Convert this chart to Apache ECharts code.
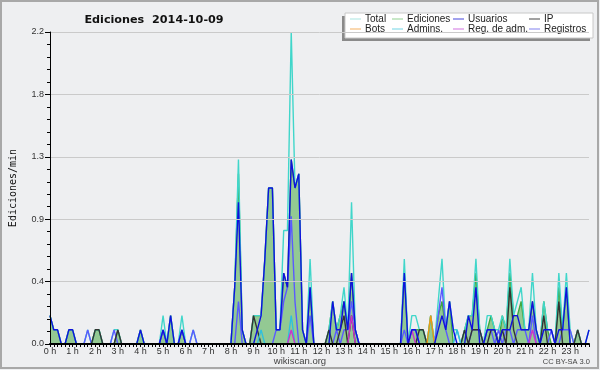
<!DOCTYPE html>
<html><head><meta charset="utf-8">
<script src="https://cdn.jsdelivr.net/npm/echarts@6/dist/echarts.min.js"></script>
<style>html,body{margin:0;padding:0;background:#eeeff1}#c{width:600px;height:370px}</style>
</head><body><div id="c"></div>
<script>
// tick labels (one per hour, data every 10 minutes)
const hourLabels = ['0 h','1 h','2 h','3 h','4 h','5 h','6 h','7 h','8 h','9 h','10 h','11 h',
  '12 h','13 h','14 h','15 h','16 h','17 h','18 h','19 h','20 h','21 h','22 h','23 h'];
const yTickLabels = ['0.0','0.4','0.9','1.3','1.8','2.2'];
const seriesNames = ['Total','Ediciones','Usuarios','IP','Bots','Admins.','Reg. de adm.','Registros'];

// edits per minute, 10-minute buckets (6 per hour row)
const total = [
 .2,.1,.1,0,0,.1,   .1,0,0,0,.1,0,   .1,.1,0,0,0,.1,   .1,0,0,0,0,0,
 .1,0,0,0,0,0,      .2,0,.2,0,0,.2,  0,0,.1,0,0,0,     0,0,0,0,0,0,
 0,.4,1.3,.1,0,0,   .2,.2,.2,.6,1.1,1.1, .1,.1,.8,.8,2.2,1.1, 1.2,.1,0,.6,0,0,
 0,0,.1,.3,.1,.2,   .4,.1,1.0,.1,0,0, 0,0,0,0,0,0,     0,0,0,0,.6,0,
 .2,.2,.1,.1,0,.2,  0,.3,.6,.1,.3,.1, .1,0,.1,.2,.2,.6, .1,0,.2,.2,.1,.1,
 .2,.1,.6,.2,.3,.4, .1,.1,.5,.1,0,.3, .1,.1,0,.5,.1,.5, .1,0,.1,0,0,.1];
const edits = [
 .2,.1,.1,0,0,.1,   .1,0,0,0,0,0,    .1,.1,0,0,0,0,    .1,0,0,0,0,0,
 .1,0,0,0,0,0,      .1,0,.2,0,0,.1,  0,0,0,0,0,0,      0,0,0,0,0,0,
 0,.4,1.2,.1,0,0,   .2,.2,.2,.6,1.1,1.1, .1,.1,.5,.4,1.3,1.1, 1.2,.1,0,.4,0,0,
 0,0,.1,.3,.1,.2,   .3,.1,.5,.1,0,0, 0,0,0,0,0,0,      0,0,0,0,.5,0,
 .1,.1,.1,.1,0,.2,  0,.2,.3,.1,.3,0, 0,0,.1,.2,.2,.5,  .1,0,.1,.2,.1,0,
 .2,.1,.5,.2,.2,.3, .1,.1,.3,.1,0,.3, .1,0,0,.4,.1,.4, 0,0,.1,0,0,0];
const users = [
 .2,.1,.1,0,0,.1,   .1,0,0,0,0,0,    0,0,0,0,0,0,      0,0,0,0,0,0,
 .1,0,0,0,0,0,      .1,0,.2,0,0,.1,  0,0,0,0,0,0,      0,0,0,0,0,0,
 0,.4,1.0,.1,0,0,   0,.1,.2,.6,1.1,1.1, .1,.1,.5,.4,1.3,1.1, 1.2,.1,0,.4,0,0,
 0,0,0,.3,.1,.1,    .3,.1,.5,.1,0,0, 0,0,0,0,0,0,      0,0,0,0,.5,0,
 .1,.1,0,0,0,0,     0,.1,.2,.1,.3,.1, 0,0,0,.2,.1,.4,  0,0,.1,.1,.1,0,
 .1,.1,.1,.2,.2,.1, .1,.1,.3,.1,0,.1, .1,.1,0,.1,.1,.4, 0,0,0,0,0,.1];
const ip = [
 0,0,0,0,0,0,       0,0,0,0,0,0,     .1,.1,0,0,0,0,    .1,0,0,0,0,0,
 0,0,0,0,0,0,       0,0,0,0,0,0,     0,0,0,0,0,0,      0,0,0,0,0,0,
 0,0,0,0,0,0,       .2,.1,0,0,0,0,   0,0,0,0,0,0,      0,0,0,0,0,0,
 0,0,.1,0,0,.1,     .2,0,.2,0,0,0,   0,0,0,0,0,0,      0,0,0,0,0,0,
 0,0,.1,.1,0,0,     0,0,0,0,0,0,     0,0,.1,0,.1,.1,   .1,0,0,.1,.1,0,
 .1,0,.4,.1,0,0,    0,0,0,0,0,.2,    0,0,0,.3,0,0,     0,0,.1,0,0,0];
const bots = [
 0,0,0,0,0,0, 0,0,0,0,0,0, 0,0,0,0,0,0, 0,0,0,0,0,0,
 0,0,0,0,0,0, 0,0,0,0,0,0, 0,0,0,0,0,0, 0,0,0,0,0,0,
 0,0,0,0,0,0, 0,0,0,0,0,0, 0,0,0,0,0,0, 0,0,0,0,0,0,
 0,0,0,0,0,0, 0,0,0,0,0,0, 0,0,0,0,0,0, 0,0,0,0,0,0,
 0,0,0,0,0,.2, 0,0,0,0,0,0, 0,0,0,0,0,0, 0,0,0,0,0,0,
 0,0,0,0,0,0, 0,0,0,0,0,0, 0,0,0,0,0,0, 0,0,0,0,0,0];
const admins = [
 0,0,0,0,0,0, 0,0,0,0,0,0, 0,0,0,0,0,0, 0,0,0,0,0,0,
 0,0,0,0,0,0, 0,0,0,0,0,0, 0,0,0,0,0,0, 0,0,0,0,0,0,
 0,0,0,0,0,0, 0,0,.1,0,0,0, 0,0,0,0,.2,0, 0,0,0,0,0,0,
 0,0,0,0,0,0, 0,0,0,0,0,0, 0,0,0,0,0,0, 0,0,0,0,0,0,
 0,0,0,0,0,0, 0,0,0,0,0,0, .1,0,0,0,0,0, 0,0,0,0,0,0,
 0,0,0,0,0,0, 0,0,0,0,0,0, 0,0,0,0,0,0, 0,0,0,0,0,0];
const adminLogs = [
 0,0,0,0,0,0, 0,0,0,0,0,0, 0,0,0,0,0,0, 0,0,0,0,0,0,
 0,0,0,0,0,0, 0,0,0,0,0,0, 0,0,0,0,0,0, 0,0,0,0,0,0,
 0,0,0,0,0,0, 0,0,0,0,0,0, 0,0,0,0,.1,0, 0,0,0,0,0,0,
 0,0,0,0,0,0, 0,0,.2,0,0,0, 0,0,0,0,0,0, 0,0,0,0,0,0,
 .1,0,0,0,0,0, 0,0,0,0,0,0, 0,0,0,0,0,0, 0,0,0,0,0,0,
 0,0,0,0,0,0, 0,0,.1,0,0,0, 0,0,0,0,0,0, 0,0,0,0,0,0];
const logs = [
 0,0,0,0,0,0,       0,0,0,0,.1,0,    0,0,0,0,0,.1,     0,0,0,0,0,0,
 0,0,0,0,0,0,       .1,0,0,0,0,.1,   0,0,.1,0,0,0,     0,0,0,0,0,0,
 0,0,.3,0,0,0,      0,0,0,0,0,0,     .1,.1,.3,.4,.9,.3, 0,0,0,.2,0,0,
 0,0,0,0,.1,0,      .1,.1,.3,.1,0,0, 0,0,0,0,0,0,      0,0,0,0,.1,0,
 .1,.1,0,0,0,0,     0,.2,.4,.1,0,0,  0,0,0,0,.1,.1,    .1,0,.1,.1,0,.1,
 0,.1,.1,0,.1,.1,   .1,0,.2,0,0,0,   0,.1,0,0,.1,.1,   .1,0,0,0,0,0];

const cats = [];
hourLabels.forEach(h => { for (let m = 0; m < 6; m++) cats.push(m === 0 ? h : h + ':' + m + '0'); });

const colors = {
  'Total': '#40d6ca', 'Ediciones': '#3fa83f', 'Usuarios': '#1010dd', 'IP': '#333333',
  'Bots': '#ee9a10', 'Admins.': '#30c0dc', 'Reg. de adm.': '#cc33cc', 'Registros': '#5a5aff'
};
const legendColors = {
  'Total': '#a8e4e0', 'Ediciones': '#90d090', 'Usuarios': '#4444dd', 'IP': '#444444',
  'Bots': '#f4b060', 'Admins.': '#70d4e4', 'Reg. de adm.': '#d070e0', 'Registros': '#8080ee'
};
function line(name, data, z, extra) {
  return Object.assign({
    name, type: 'line', data, z, symbol: 'none', smooth: false, animation: false,
    lineStyle: { color: colors[name], width: 1.4 }, itemStyle: { color: legendColors[name] }
  }, extra || {});
}

const chart = echarts.init(document.getElementById('c'), null, { renderer: 'canvas' });
const legendBase = {
  orient: 'vertical', top: 14, padding: 0, itemGap: 0, itemWidth: 11, itemHeight: 1,
  icon: 'rect', selectedMode: false,
  textStyle: { fontFamily: 'Liberation Sans', fontSize: 10, color: '#222', lineHeight: 10, padding: [0, 0, 0, -1] },
  z: 20
};
chart.setOption({
  backgroundColor: '#eeeff1',
  animation: false,
  title: {
    text: 'Ediciones  2014-10-09', left: 149, top: 10, textAlign: 'center',
    textStyle: { fontFamily: 'DejaVu Sans', fontWeight: 'bold', fontSize: 11.2, color: '#111' }
  },
  legend: [
    Object.assign({}, legendBase, { left: 350, data: ['Total', 'Bots'] }),
    Object.assign({}, legendBase, { left: 392, data: ['Ediciones', 'Admins.'] }),
    Object.assign({}, legendBase, { left: 453, data: ['Usuarios', 'Reg. de adm.'] }),
    Object.assign({}, legendBase, { left: 529, data: ['IP', 'Registros'] })
  ],
  graphic: [
    { type: 'rect', shape: { x: 1, y: 1, width: 597, height: 367 }, style: { fill: 'none', stroke: '#a8a8a8', lineWidth: 2 }, z: 0 },
    { type: 'rect', shape: { x: 342, y: 16, width: 248, height: 25 }, style: { fill: '#8a8a8a' }, z: 10 },
    { type: 'rect', shape: { x: 345, y: 13, width: 248, height: 25 }, style: { fill: '#ffffff', stroke: '#c8c8c8', lineWidth: 1 }, z: 11 },
    { type: 'text', x: 300, y: 361, style: { text: 'wikiscan.org', fontFamily: 'Liberation Sans', fontSize: 9.5, fill: '#444', textAlign: 'center', textVerticalAlign: 'middle' }, z: 12 },
    { type: 'text', x: 590, y: 362, style: { text: 'CC BY-SA 3.0', fontFamily: 'Liberation Sans', fontSize: 7.5, fill: '#444', textAlign: 'right', textVerticalAlign: 'middle' }, z: 12 }
  ],
  grid: { left: 46, right: 11, top: 32, bottom: 26, containLabel: false },
  xAxis: {
    type: 'category', data: cats, boundaryGap: false, z: 30,
    axisLine: { show: true, lineStyle: { color: '#000', width: 2 } },
    axisTick: { show: true, interval: 0, length: 3, lineStyle: { color: '#000', width: 1 } },
    axisLabel: { interval: (idx) => idx % 6 === 0, fontFamily: 'Liberation Sans', fontSize: 9, color: '#333', margin: 3 },
    splitLine: { show: false }
  },
  yAxis: {
    type: 'value', min: 0, max: 2.2, interval: 0.44, z: 30,
    name: 'Ediciones/min', nameLocation: 'middle', nameGap: 32, nameRotate: 90,
    nameTextStyle: { fontFamily: 'DejaVu Sans Mono', fontSize: 10, color: '#111' },
    axisLine: { show: true, lineStyle: { color: '#000', width: 1 } },
    axisTick: { show: true, length: 5, lineStyle: { color: '#000' } },
    minorTick: { show: true, splitNumber: 5, length: 3, lineStyle: { color: '#000' } },
    axisLabel: {
      fontFamily: 'Liberation Sans', fontSize: 9, color: '#333', margin: 6,
      formatter: (v) => yTickLabels[Math.round(v / 0.44)]
    },
    splitLine: { show: true, lineStyle: { color: '#cacaca', width: 1 } }
  },
  series: [
    line('Ediciones', edits, 1, { areaStyle: { color: '#93c993', opacity: 1 } }),
    line('Total', total, 2),
    line('Registros', logs, 3),
    line('IP', ip, 4),
    line('Bots', bots, 5),
    line('Admins.', admins, 6),
    line('Reg. de adm.', adminLogs, 7),
    line('Usuarios', users, 8)
  ]
});
</script></body></html>
